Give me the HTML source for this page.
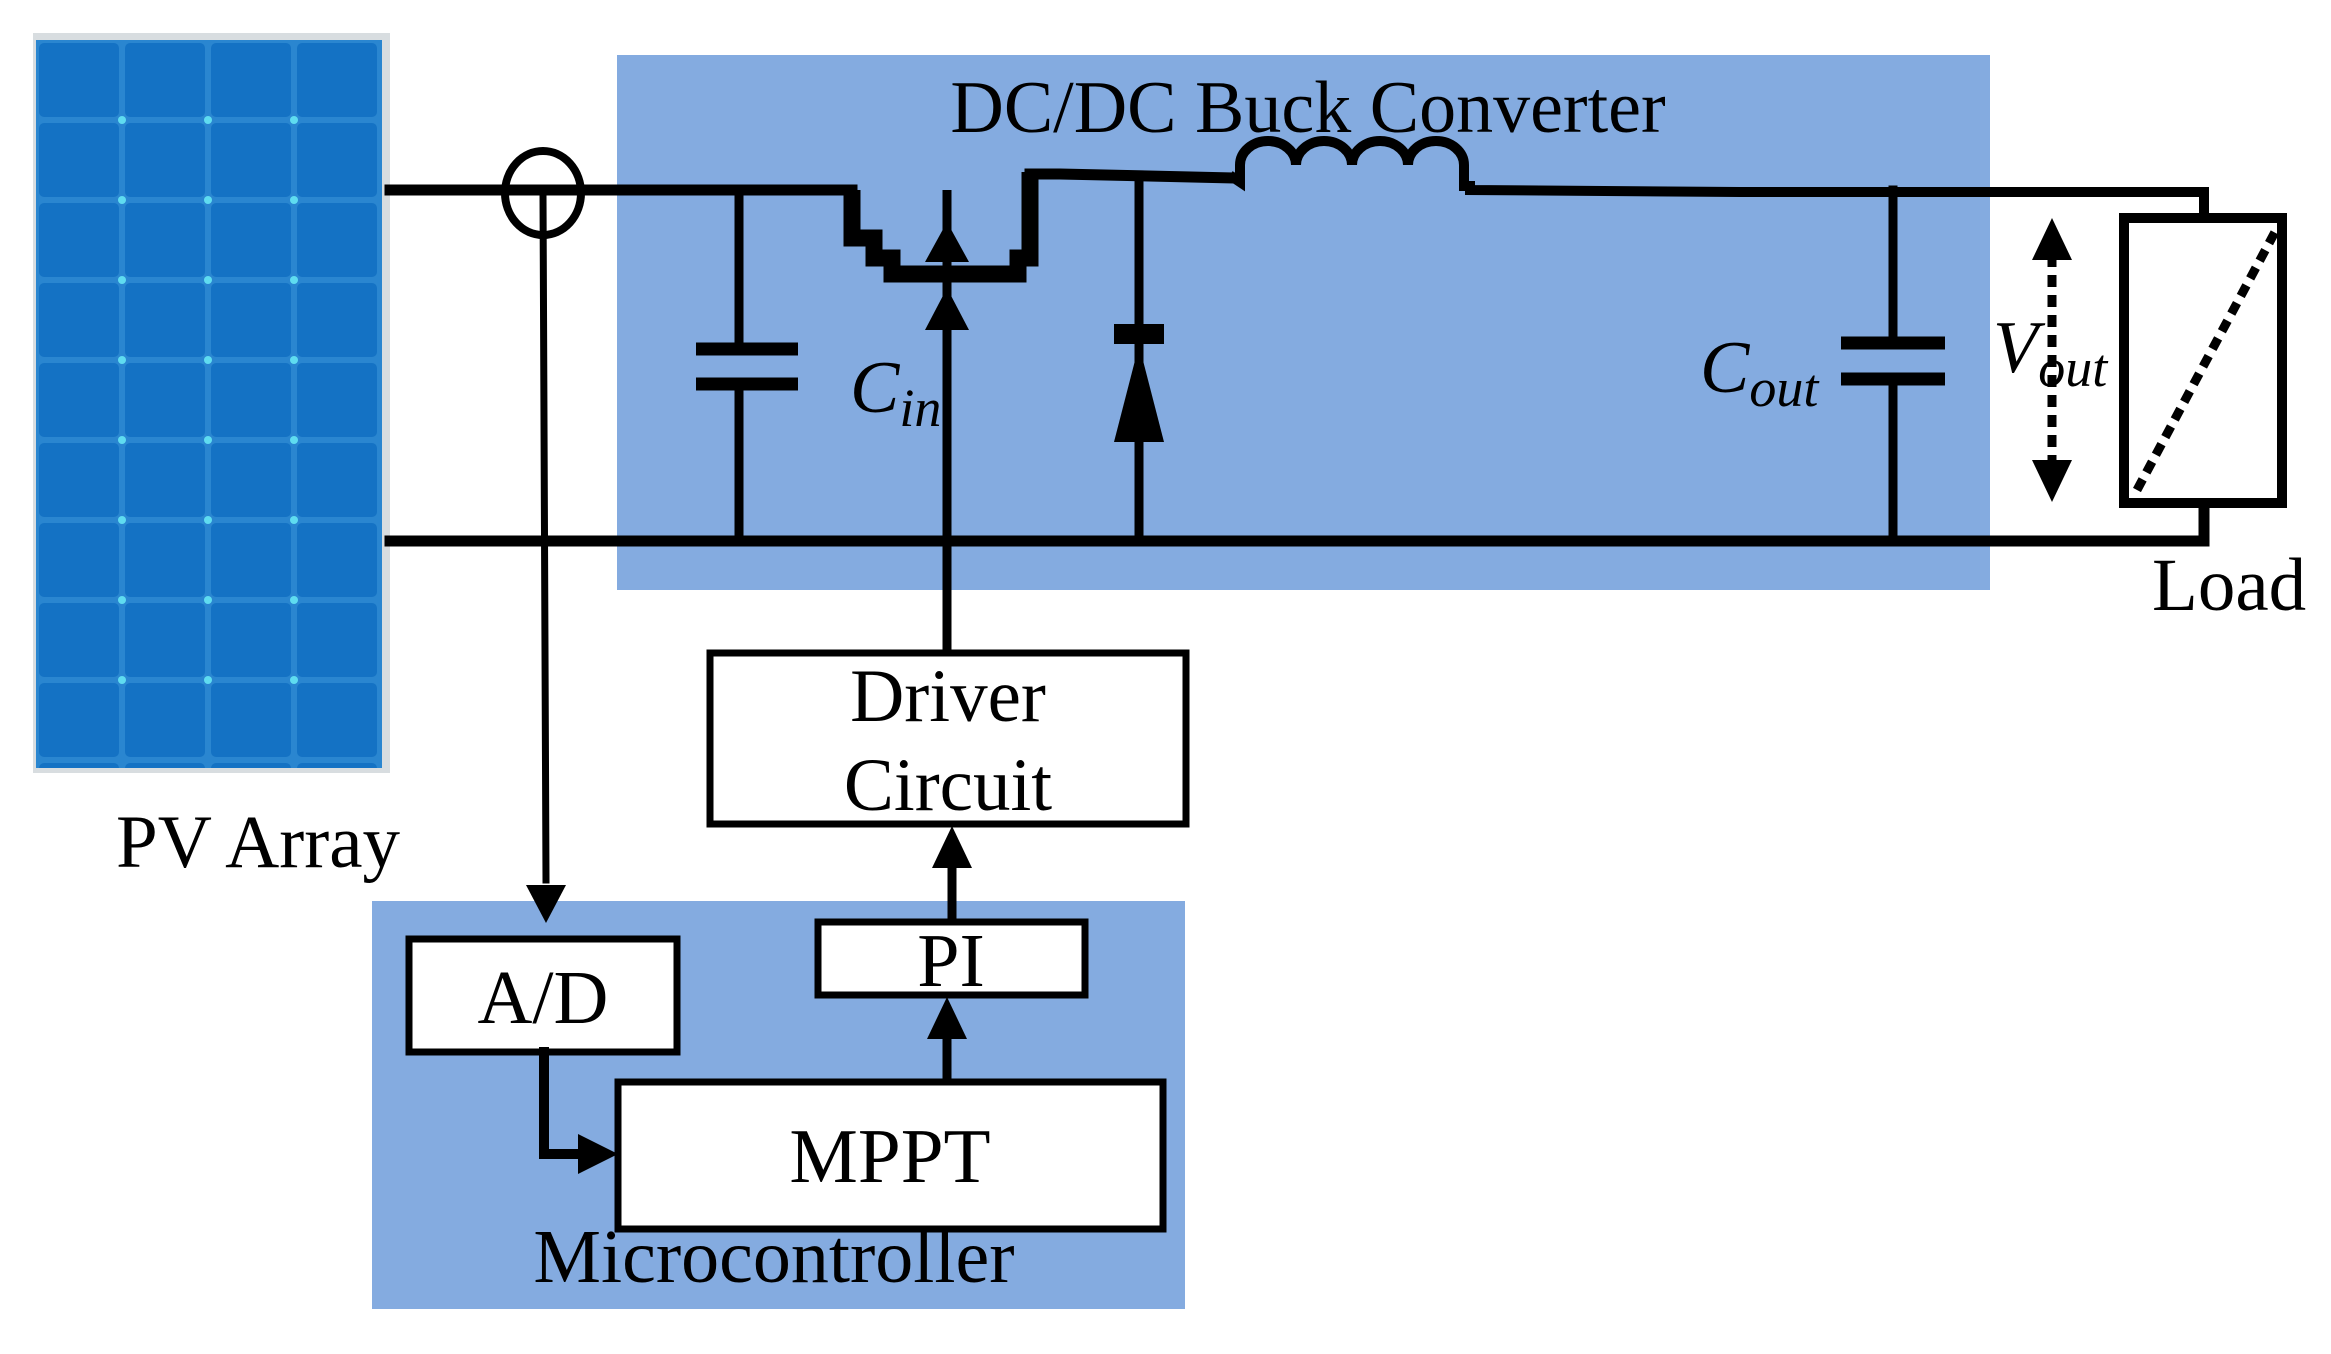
<!DOCTYPE html>
<html><head><meta charset="utf-8"><style>
html,body{margin:0;padding:0;background:#fff;}
svg{display:block;}
text{font-family:"Liberation Serif",serif;fill:#000;}
</style></head><body>
<svg width="2331" height="1354" viewBox="0 0 2331 1354" xmlns="http://www.w3.org/2000/svg">
<defs>
<pattern id="cells" x="36" y="40" width="86" height="80" patternUnits="userSpaceOnUse">
<rect width="86" height="80" fill="#2a86d0"/>
<rect x="3" y="3" width="80" height="74" rx="5" fill="#1472c4"/>
</pattern>
</defs>
<!-- PV panel -->
<rect x="33" y="33" width="357" height="740" fill="#d8dde0"/>
<rect x="36" y="40" width="346" height="728" fill="url(#cells)"/>
<g fill="#5fdcf0">
<circle cx="122" cy="120" r="4"/><circle cx="208" cy="120" r="4"/><circle cx="294" cy="120" r="4"/>
<circle cx="122" cy="200" r="4"/><circle cx="208" cy="200" r="4"/><circle cx="294" cy="200" r="4"/>
<circle cx="122" cy="280" r="4"/><circle cx="208" cy="280" r="4"/><circle cx="294" cy="280" r="4"/>
<circle cx="122" cy="360" r="4"/><circle cx="208" cy="360" r="4"/><circle cx="294" cy="360" r="4"/>
<circle cx="122" cy="440" r="4"/><circle cx="208" cy="440" r="4"/><circle cx="294" cy="440" r="4"/>
<circle cx="122" cy="520" r="4"/><circle cx="208" cy="520" r="4"/><circle cx="294" cy="520" r="4"/>
<circle cx="122" cy="600" r="4"/><circle cx="208" cy="600" r="4"/><circle cx="294" cy="600" r="4"/>
<circle cx="122" cy="680" r="4"/><circle cx="208" cy="680" r="4"/><circle cx="294" cy="680" r="4"/>
</g>
<text x="116" y="867" font-size="75">PV Array</text>

<!-- converter background -->
<rect x="617" y="55" width="1373" height="535" fill="#84abe0"/>
<text x="1308" y="132" font-size="74" text-anchor="middle">DC/DC Buck Converter</text>

<!-- microcontroller background -->
<rect x="372" y="901" width="813" height="408" fill="#84abe0"/>

<g stroke="#000" fill="none" stroke-linecap="square">
<line x1="390" y1="190" x2="852" y2="190" stroke-width="11"/>
<polyline points="852,190 852,238 874,238 874,258 892,258 892,274 1018,274 1018,258 1030,258 1030,172" stroke-width="17" stroke-linejoin="miter" stroke-linecap="butt"/>
<polyline points="1030,174 1060,174 1234,178" stroke-width="11"/>
<!-- inductor -->
<path d="M1234,178 L1240,182 L1240,165 a28,24 0 0 1 56,0 a28,24 0 0 1 56,0 a28,24 0 0 1 56,0 a28,24 0 0 1 56,0 L1464,186 L1470,186 L1470,190 L1740,192 L2204,192 L2204,213" stroke-width="10"/>
<!-- bottom wire -->
<polyline points="390,541 2204,541 2204,506" stroke-width="11"/>
<!-- Cin -->
<line x1="739" y1="190" x2="739" y2="349" stroke-width="9"/>
<line x1="739" y1="384" x2="739" y2="541" stroke-width="9"/>
<line x1="696" y1="349" x2="798" y2="349" stroke-width="13" stroke-linecap="butt"/>
<line x1="696" y1="384" x2="798" y2="384" stroke-width="13" stroke-linecap="butt"/>
<!-- diode -->
<line x1="1139" y1="176" x2="1139" y2="541" stroke-width="9"/>
<line x1="1114" y1="334" x2="1164" y2="334" stroke-width="20" stroke-linecap="butt"/>
<!-- Cout -->
<line x1="1893" y1="190" x2="1893" y2="343" stroke-width="9"/>
<line x1="1893" y1="379" x2="1893" y2="541" stroke-width="9"/>
<line x1="1841" y1="343" x2="1945" y2="343" stroke-width="13" stroke-linecap="butt"/>
<line x1="1841" y1="379" x2="1945" y2="379" stroke-width="13" stroke-linecap="butt"/>
<!-- sensor -->
<ellipse cx="543" cy="193" rx="38" ry="42" stroke-width="8"/>
<line x1="543" y1="193" x2="546" y2="880" stroke-width="7"/>
<!-- gate line -->
<line x1="947" y1="651" x2="947" y2="190" stroke-width="9" stroke-linecap="butt"/>
<!-- Vout dotted -->
<line x1="2052" y1="255" x2="2052" y2="470" stroke-width="9" stroke-dasharray="12,8" stroke-linecap="butt"/>
<!-- Load -->
<rect x="2124" y="218" width="158" height="285" stroke-width="10" fill="#fff"/>
<line x1="2137" y1="490" x2="2275" y2="232" stroke-width="9" stroke-dasharray="12,8" stroke-linecap="butt"/>
<!-- blocks -->
<rect x="710" y="653" width="476" height="171" stroke-width="7" fill="#fff"/>
<rect x="409" y="939" width="268" height="113" stroke-width="7" fill="#fff"/>
<rect x="818" y="922" width="267" height="73" stroke-width="7" fill="#fff"/>
<rect x="618" y="1082" width="545" height="147" stroke-width="7" fill="#fff"/>
<!-- connections -->
<line x1="952" y1="922" x2="952" y2="860" stroke-width="9" stroke-linecap="butt"/>
<line x1="947" y1="1082" x2="947" y2="1030" stroke-width="9" stroke-linecap="butt"/>
<polyline points="544,1052 544,1154 580,1154" stroke-width="10"/>
</g>
<g fill="#000">
<polygon points="1139,345 1114,442 1164,442"/>
<polygon points="947,288 925,330 969,330"/>
<polygon points="947,222 925,262 969,262"/>
<polygon points="2052,218 2032,260 2072,260"/>
<polygon points="2052,502 2032,460 2072,460"/>
<polygon points="546,923 526,885 566,885"/>
<polygon points="952,826 932,868 972,868"/>
<polygon points="947,997 927,1039 967,1039"/>
<polygon points="618,1154 578,1134 578,1174"/>
</g>
<text x="850" y="412" font-size="74" font-style="italic">C<tspan font-size="54" dy="14">in</tspan></text>
<text x="1700" y="392" font-size="74" font-style="italic">C<tspan font-size="54" dy="14">out</tspan></text>
<text x="1993" y="372" font-size="74" font-style="italic">V<tspan font-size="54" dy="14">out</tspan></text>
<text x="2152" y="610" font-size="75">Load</text>
<text x="948" y="721" font-size="75" text-anchor="middle">Driver</text>
<text x="948" y="810" font-size="75" text-anchor="middle">Circuit</text>
<text x="543" y="1023" font-size="76" text-anchor="middle">A/D</text>
<text x="951" y="986" font-size="76" text-anchor="middle">PI</text>
<text x="890" y="1182" font-size="77" text-anchor="middle">MPPT</text>
<text x="774" y="1282" font-size="76" text-anchor="middle">Microcontroller</text>
</svg>
</body></html>
